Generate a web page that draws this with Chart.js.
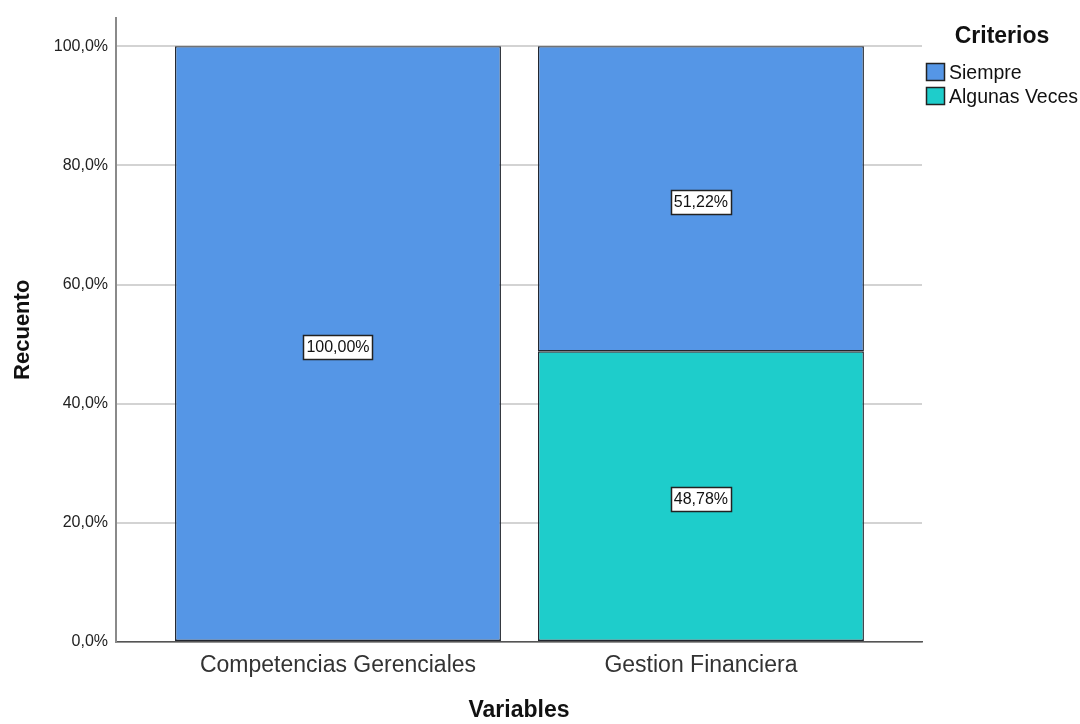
<!DOCTYPE html>
<html>
<head>
<meta charset="utf-8">
<script src="https://cdn.jsdelivr.net/npm/chart.js@4"></script>
<style>
  html, body { margin: 0; padding: 0; background: #fff; }
  #wrap { width: 1080px; height: 724px; }
</style>
</head>
<body>
<div id="wrap"><canvas id="chart"></canvas></div>
<script>
const categories = ["Competencias Gerenciales", "Gestion Financiera"];
const siempre = [100.00, 51.22];
const algunasVeces = [null, 48.78];
const yTicks = [0, 20, 40, 60, 80, 100];

const FONT = "'Liberation Sans', Arial, sans-serif";
const BLUE = '#5596e6';
const TEAL = '#1ecdcb';

const fmtAxis = v => v.toFixed(1).replace('.', ',') + '%';
const fmtLabel = v => v.toFixed(2).replace('.', ',') + '%';

// white boxed value labels in the middle of each segment
const valueLabels = {
  id: 'valueLabels',
  afterDatasetsDraw(chart) {
    const ctx = chart.ctx;
    ctx.save();
    ctx.font = '16px ' + FONT;
    ctx.textAlign = 'center';
    ctx.textBaseline = 'middle';
    chart.data.datasets.forEach((ds, di) => {
      chart.getDatasetMeta(di).data.forEach((bar, i) => {
        const v = ds.data[i].y;
        if (v == null) return;
        const txt = fmtLabel(v);
        const cy = Math.round((bar.y + bar.base) / 2 + 3);
        const w = Math.round(ctx.measureText(txt).width + 6);
        const h = 24;
        const x0 = Math.round(bar.x - w / 2);
        const y0 = Math.round(cy - h / 2);
        ctx.fillStyle = '#fff';
        ctx.fillRect(x0, y0, w, h);
        ctx.strokeStyle = '#222';
        ctx.lineWidth = 1.5;
        ctx.strokeRect(x0 + 0.5, y0 + 0.5, w, h);
        ctx.fillStyle = '#111';
        ctx.fillText(txt, bar.x, cy + 1);
      });
    });
    ctx.restore();
  }
};

// legend on the right, Siempre listed first
const sideLegend = {
  id: 'sideLegend',
  afterDraw(chart) {
    const ctx = chart.ctx;
    ctx.save();
    ctx.fillStyle = '#111';
    ctx.font = 'bold 23px ' + FONT;
    ctx.textAlign = 'center';
    ctx.textBaseline = 'middle';
    ctx.fillText('Criterios', 1002, 37);
    const items = [chart.data.datasets[1], chart.data.datasets[0]];
    ctx.font = '19.5px ' + FONT;
    ctx.textAlign = 'left';
    items.forEach((ds, k) => {
      const y = 63 + k * 24;
      ctx.fillStyle = ds.backgroundColor;
      ctx.fillRect(926, y, 18, 17);
      ctx.strokeStyle = '#222';
      ctx.lineWidth = 1.5;
      ctx.strokeRect(926.5, y + 0.5, 18, 17);
      ctx.fillStyle = '#111';
      ctx.fillText(ds.label, 949, y + 11);
    });
    ctx.restore();
  }
};

new Chart(document.getElementById('chart'), {
  type: 'bar',
  data: {
    datasets: [
      {
        label: 'Algunas Veces',
        data: algunasVeces.map((v, i) => ({ x: i, y: v })),
        backgroundColor: TEAL,
        borderColor: '#23272f',
        borderWidth: 1.4,
        borderSkipped: false
      },
      {
        label: 'Siempre',
        data: siempre.map((v, i) => ({ x: i, y: v })),
        backgroundColor: BLUE,
        borderColor: '#23272f',
        borderWidth: 1.4,
        borderSkipped: false
      }
    ]
  },
  options: {
    responsive: true,
    maintainAspectRatio: false,
    animation: false,
    datasets: { bar: { categoryPercentage: 1, barPercentage: 0.898 } },
    layout: { padding: { left: 0, right: 158, top: 13, bottom: 0 } },
    plugins: {
      legend: { display: false },
      tooltip: { enabled: false }
    },
    scales: {
      x: {
        type: 'linear',
        stacked: true,
        offset: false,
        min: -0.6116,
        max: 1.609,
        afterBuildTicks: s => { s.ticks = categories.map((c, i) => ({ value: i })); },
        afterFit: s => { s.height = 82; },
        grid: { display: false, drawTicks: false },
        border: { display: true, color: '#555', width: 1.5 },
        ticks: {
          callback: v => categories[v],
          font: { size: 23, family: FONT },
          color: '#333',
          padding: 10,
          maxRotation: 0,
          autoSkip: false
        },
        title: {
          display: true,
          text: 'Variables',
          font: { size: 23, weight: 'bold', family: FONT },
          color: '#111',
          padding: { top: 0, bottom: 0 }
        }
      },
      y: {
        stacked: true,
        min: 0,
        max: 104.8,
        afterBuildTicks: s => { s.ticks = yTicks.map(v => ({ value: v })); },
        afterFit: s => { s.width = 116; },
        grid: { color: '#d3d3d3', lineWidth: 2, drawTicks: false },
        border: { display: true, color: '#8a8a8a', width: 2 },
        ticks: {
          callback: v => fmtAxis(v),
          font: { size: 16, family: FONT },
          color: '#222',
          padding: 8
        },
        title: {
          display: true,
          text: 'Recuento',
          font: { size: 22, weight: 'bold', family: FONT },
          color: '#111',
          padding: { top: 10, bottom: 0 }
        }
      }
    }
  },
  plugins: [valueLabels, sideLegend]
});
</script>
</body>
</html>
